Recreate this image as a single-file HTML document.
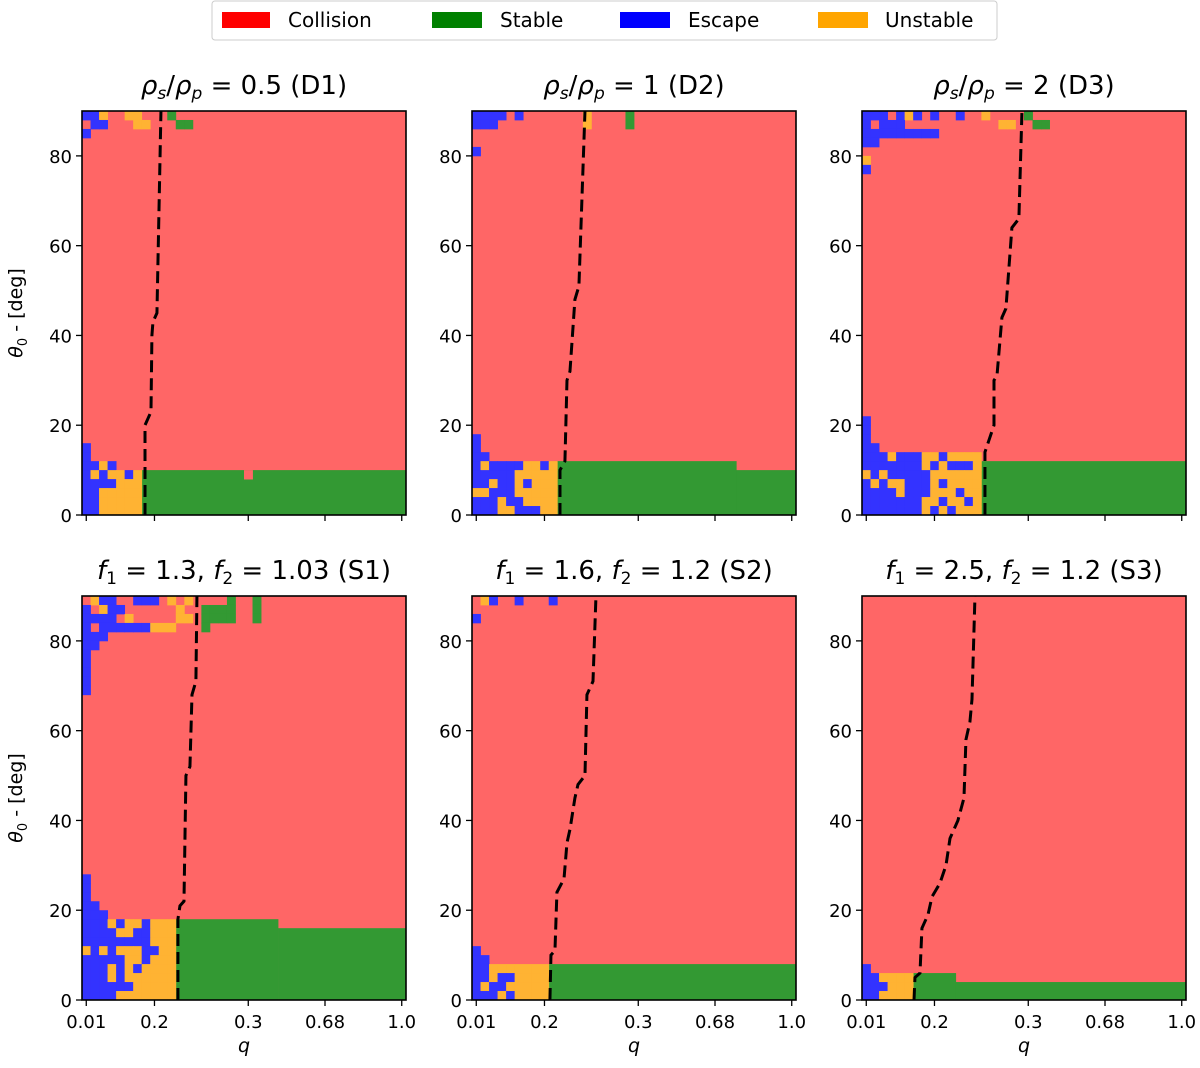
<!DOCTYPE html>
<html><head><meta charset="utf-8"><style>
body{margin:0;background:#fff}
svg{display:block;font-family:"DejaVu Sans","Liberation Sans",sans-serif}
</style></head><body>
<svg id="fig" width="1200" height="1068" viewBox="0 0 1200 1068" xmlns="http://www.w3.org/2000/svg">
<g>
<rect x="212" y="1" width="785" height="39" fill="#fff" stroke="#ccc" rx="3"/>
<rect x="222" y="12" width="48" height="16" fill="#ff0000"/>
<text x="288" y="27" font-size="20">Collision</text>
<rect x="432" y="12" width="50" height="16" fill="#008000"/>
<text x="500" y="27" font-size="20">Stable</text>
<rect x="620" y="12" width="50" height="16" fill="#0000ff"/>
<text x="688" y="27" font-size="20">Escape</text>
<rect x="818" y="12" width="50" height="16" fill="#ffa500"/>
<text x="885" y="27" font-size="20">Unstable</text>
</g>
</svg>
<script>
const NCOLS = 38, NROWS = 45;
const xTickLabels = ["0.01","0.2","0.3","0.68","1.0"];
const xTickCols = [0,8,19,28,37];
const yTickLabels = [0,20,40,60,80];

const d1Stable = [[7,37,40]];
const d1Rows = [[0,"BBO..OO...G"],[1,".BB...OO...GG"],[2,"B"],[37,"B"],[38,"B"],[39,"BBOB"],[40,"BOBOOBO............R"],[41,"BBBBOOO"],[42,"BBOOOOO"],[43,"BBOOOOO"],[44,"BBOOOOO"]];
const d1BoundTheta = [0,20,23,40,43,45,90];
const d1BoundQ = [7.39,7.39,8.09,8.2,8.32,8.79,9.26];

const d2Stable = [[10,30,39],[31,37,40]];
const d2Rows = [[0,"BBBB.B.......O....G"],[1,"BBB..........O....G"],[4,"B"],[36,"B"],[37,"B"],[38,"BB"],[39,"BOBBBBOOBO"],[40,"BBBBBOOOOO"],[41,"BBOBBOBOOO"],[42,"OOBBBOOOOO"],[43,"BBBOBBOOOO"],[44,"BBBOOBBBOO"]];
const d2BoundTheta = [0,10,12,30,32,48,51,90];
const d2BoundQ = [10.32,10.32,10.9,11.14,11.49,12.07,12.54,13.25];

const d3Stable = [[14,37,39]];
const d3Rows = [[0,"BBB.BOB.B..B..O....G"],[1,"B.BBB...........OO..GG"],[2,"BBBBBBBBB"],[3,"BB"],[5,"O"],[6,"B"],[34,"B"],[35,"B"],[36,"B"],[37,"BB"],[38,"BBBOBBBOOBOOOO"],[39,"BBBBBBBOBOBBBO"],[40,"OBOBBBBBOOOOOO"],[41,"BOBOOBBBOBOOOO"],[42,"BBBBOBBBOOOBOO"],[43,"BBBBBBBOOBOOBO"],[44,"BBBBBBBOBOBOOO"]];
const d3BoundTheta = [0,14,17,20,30,31,44,46,64,66,90];
const d3BoundQ = [14.42,14.42,14.95,15.48,15.48,15.83,16.41,16.88,17.58,18.4,18.76];

const s1Stable = [[11,22,36],[23,37,37]];
const s1Rows = [[0,".OBB..BBB.O.O....G..G"],[1,"B.OBB......O..GGGG..G"],[2,"BBBB.O.....OO.GGGG..G"],[3,"B.BBBBBBOOO...G"],[4,"BBB"],[5,"BB"],[6,"B"],[7,"B"],[8,"B"],[9,"B"],[10,"B"],[31,"B"],[32,"B"],[33,"B"],[34,"BB"],[35,"BBB"],[36,"BBBOBOOBOOO"],[37,"BBBBOOBBOOO"],[38,"BBBBBBBBOOO"],[39,"OBOBOOOBBOO"],[40,"BBBBBOOBOOO"],[41,"BBBOBOBOOOO"],[42,"BBBOBOOOOOO"],[43,"BBBBBBOOOOO"],[44,"BBBBOOOOOOO"]];
const s1BoundTheta = [0,18,21,22,50,52,68,71,90];
const s1BoundQ = [11.25,11.25,11.49,11.96,12.19,12.66,12.9,13.36,13.48];

const s2Stable = [[9,37,41]];
const s2Rows = [[0,".OB..B...B"],[2,"B"],[39,"B"],[40,"BB"],[41,"BBOOOOOOO"],[42,"BBOBBOOOO"],[43,"BOBBOOOOO"],[44,"BBBOBOOOO"]];
const s2BoundTheta = [0,10,11,24,27,35,38,45,48,50,68,71,90];
const s2BoundQ = [9.14,9.26,9.73,9.96,10.79,11.14,11.49,12.07,12.43,13.25,13.48,14.19,14.54];

const s3Stable = [[6,10,42],[11,37,43]];
const s3Rows = [[41,"B"],[42,"BBOOOO"],[43,"BBBOOO"],[44,"BBOOOO"]];
const s3BoundTheta = [0,5,6,16,19,23,26,30,36,40,45,58,62,67,90];
const s3BoundQ = [6.1,6.21,6.8,7.03,7.74,8.21,9.14,9.85,10.32,11.25,11.96,12.19,12.66,12.9,13.25];

const panels = [
 {name:"d1",x0:82,y0:111,stable:d1Stable,rows:d1Rows,bt:d1BoundTheta,bq:d1BoundQ,title:[" = 0.5 (D1)"],kind:"rho",xl:false,yl:true},
 {name:"d2",x0:472,y0:111,stable:d2Stable,rows:d2Rows,bt:d2BoundTheta,bq:d2BoundQ,title:[" = 1 (D2)"],kind:"rho",xl:false,yl:false},
 {name:"d3",x0:862,y0:111,stable:d3Stable,rows:d3Rows,bt:d3BoundTheta,bq:d3BoundQ,title:[" = 2 (D3)"],kind:"rho",xl:false,yl:false},
 {name:"s1",x0:82,y0:596,stable:s1Stable,rows:s1Rows,bt:s1BoundTheta,bq:s1BoundQ,title:["1.3","1.03","S1"],kind:"f",xl:true,yl:true},
 {name:"s2",x0:472,y0:596,stable:s2Stable,rows:s2Rows,bt:s2BoundTheta,bq:s2BoundQ,title:["1.6","1.2","S2"],kind:"f",xl:true,yl:false},
 {name:"s3",x0:862,y0:596,stable:s3Stable,rows:s3Rows,bt:s3BoundTheta,bq:s3BoundQ,title:["2.5","1.2","S3"],kind:"f",xl:true,yl:false}
];
const W=324,H=404, CW=W/NCOLS, RH=H/NROWS;
const COL={R:"#ff6666",G:"#339933",B:"#3333ff",O:"#ffb333"};
const NS="http://www.w3.org/2000/svg";
const svg=document.getElementById("fig");
function mk(tag,attrs,parent){const e=document.createElementNS(NS,tag);for(const k in attrs)e.setAttribute(k,attrs[k]);(parent||svg).appendChild(e);return e;}

panels.forEach(p=>{
  const g=mk("g",{});
  
  
  const xs=c=>p.x0+c*CW;
  const ys=r=>p.y0+r*RH;
  const yTheta=t=>p.y0+H-t/90*H;
  const bg=mk("rect",{x:p.x0,y:p.y0,width:W,height:H,fill:COL.R},g);
  
  
  p.stable.forEach(s=>{
    const r=mk("rect",{x:xs(s[0]),y:ys(s[2]),width:(s[1]-s[0]+1)*CW+0.3,height:(NROWS-s[2])*RH,fill:COL.G},g);
    
    
  });
  p.rows.forEach(([row,str])=>{
    for(let c=0;c<str.length;c++){
      const ch=str[c]; if(ch===".")continue;
      const r=mk("rect",{x:xs(c),y:ys(row),width:CW+0.4,height:RH+0.4,fill:COL[ch]},g);
      
      
    }
  });
  const pts=p.bt.map((t,i)=>xs(p.bq[i])+","+yTheta(t)).join(" ");
  const bl=mk("polyline",{points:pts,fill:"none",stroke:"#000","stroke-width":3,"stroke-dasharray":"12,6"},g);
  
  
  const fr=mk("rect",{x:p.x0,y:p.y0,width:W,height:H,fill:"none",stroke:"#000","stroke-width":1.6},g);
  
  
  yTickLabels.forEach(v=>{
    const y=yTheta(v);
    const t=mk("line",{x1:p.x0-6,x2:p.x0,y1:y,y2:y,stroke:"#000","stroke-width":1.3},g);
    
    
    const l=mk("text",{x:p.x0-10,y:y+7,"font-size":18,"text-anchor":"end"},g);
    l.textContent=v;
    
    
  });
  xTickCols.forEach((c,i)=>{
    const x=xs(c+0.5);
    const t=mk("line",{x1:x,x2:x,y1:p.y0+H,y2:p.y0+H+6,stroke:"#000","stroke-width":1.3},g);
    
    
    if(p.xl){
      const l=mk("text",{x:x,y:p.y0+H+28,"font-size":18,"text-anchor":"middle"},g);
      l.textContent=xTickLabels[i];
      
      
    }
  });
  if(p.xl){
    const l=mk("text",{x:p.x0+W/2,y:p.y0+H+52,"font-size":19,"text-anchor":"middle","font-style":"italic"},g);
    l.textContent="q";
    
    
  }
  if(p.yl){
    const cy=p.y0+H/2;
    const l=mk("text",{x:22,y:cy,"font-size":19,"text-anchor":"middle",transform:`rotate(-90 22 ${cy})`},g);
    l.innerHTML='<tspan font-style="italic">θ</tspan><tspan font-size="13" dy="5">0</tspan><tspan dy="-5"> - [deg]</tspan>';
    
    
  }
  const tt=mk("text",{x:p.x0+W/2,y:p.y0-17,"font-size":26,"text-anchor":"middle"},g);
  if(p.kind==="rho"){
    tt.innerHTML='<tspan font-style="italic">ρ</tspan><tspan font-style="italic" font-size="17" dy="5">s</tspan><tspan dy="-5">/</tspan><tspan font-style="italic">ρ</tspan><tspan font-style="italic" font-size="17" dy="5">p</tspan><tspan dy="-5">'+p.title[0]+'</tspan>';
  } else {
    tt.innerHTML='<tspan font-style="italic">f</tspan><tspan font-size="17" dy="5">1</tspan><tspan dy="-5"> = '+p.title[0]+', </tspan><tspan font-style="italic">f</tspan><tspan font-size="17" dy="5">2</tspan><tspan dy="-5"> = '+p.title[1]+' ('+p.title[2]+')</tspan>';
  }
  
  
});
</script>
</body></html>
